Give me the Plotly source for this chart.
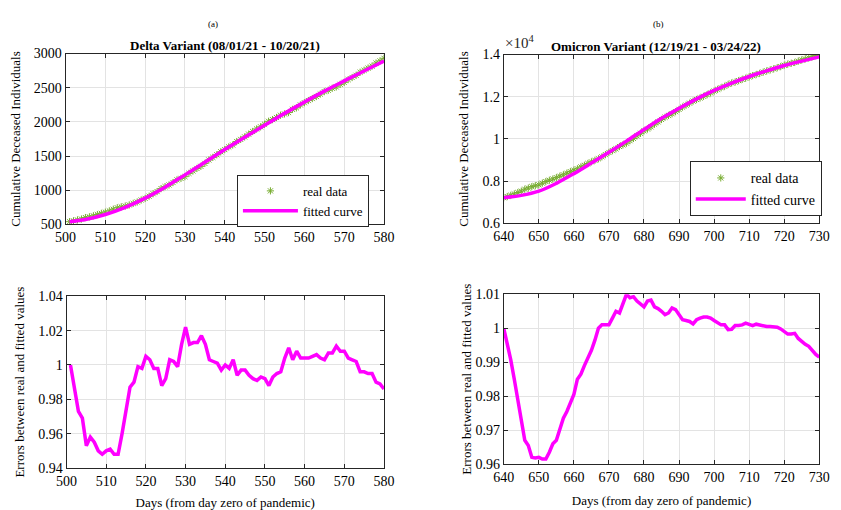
import plotly.graph_objects as go

# ---------------- Delta variant ----------------
delta_days = list(range(501, 581))
delta_real = [540, 553, 566, 579, 600, 611, 626, 644, 662, 679,
              698, 722, 744, 757, 769, 785, 808, 828, 857, 881,
              913, 949, 981, 1024, 1053, 1077, 1113, 1152, 1174, 1199,
              1247, 1282, 1319, 1350, 1393, 1443, 1481, 1519, 1563, 1595,
              1634, 1662, 1713, 1744, 1780, 1821, 1860, 1897, 1928, 1966,
              2009, 2034, 2065, 2098, 2117, 2137, 2184, 2206, 2248, 2281,
              2313, 2342, 2372, 2408, 2443, 2463, 2493, 2512, 2550, 2579,
              2619, 2650, 2682, 2727, 2756, 2788, 2817, 2861, 2893, 2931]
delta_fit_days = [501, 505, 510, 515, 520, 525, 530, 535, 540, 545, 550,
                  555, 560, 565, 570, 575, 580]
delta_fit = [540, 572, 645, 750, 885, 1045, 1225, 1410, 1595, 1775, 1950,
             2125, 2290, 2450, 2600, 2745, 2890]
delta_err = [1.000, 0.986, 0.973, 0.969, 0.953, 0.958, 0.955, 0.950, 0.948, 0.950,
             0.951, 0.948, 0.948, 0.960, 0.975, 0.987, 0.990, 0.999, 0.998, 1.005,
             1.003, 0.998, 0.998, 0.988, 0.992, 1.003, 1.002, 0.999, 1.012, 1.022,
             1.012, 1.013, 1.013, 1.017, 1.012, 1.003, 1.002, 1.001, 0.997, 1.000,
             0.998, 1.003, 0.994, 0.997, 0.997, 0.994, 0.992, 0.991, 0.993, 0.992,
             0.988, 0.993, 0.995, 0.996, 1.004, 1.010, 1.003, 1.008, 1.004, 1.004,
             1.004, 1.005, 1.006, 1.004, 1.003, 1.007, 1.007, 1.011, 1.008, 1.008,
             1.004, 1.003, 1.002, 0.996, 0.996, 0.995, 0.995, 0.990, 0.989, 0.986]

# ---------------- Omicron variant ----------------
omicron_days = list(range(640, 731))
omicron_real = [7220, 7275, 7332, 7397, 7463, 7530, 7622, 7675, 7744, 7788,
                7827, 7908, 7985, 8046, 8101, 8170, 8239, 8304, 8381, 8454,
                8526, 8589, 8677, 8756, 8840, 8918, 8993, 9064, 9157, 9259,
                9361, 9448, 9534, 9645, 9721, 9802, 9921, 10027, 10149, 10268,
                10385, 10472, 10574, 10701, 10811, 10925, 11030, 11118, 11195, 11294,
                11402, 11511, 11603, 11697, 11795, 11870, 11944, 12020, 12100, 12183,
                12272, 12351, 12428, 12498, 12585, 12654, 12702, 12764, 12823, 12879,
                12944, 13004, 13052, 13109, 13168, 13223, 13273, 13323, 13376, 13433,
                13493, 13545, 13587, 13626, 13689, 13745, 13795, 13843, 13900, 13957,
                14009]
omicron_fit_days = [640, 645, 650, 655, 660, 665, 670, 675, 680, 685, 690,
                    695, 700, 705, 710, 715, 720, 725, 730]
omicron_fit = [7220, 7330, 7530, 7900, 8360, 8860, 9370, 9900, 10450, 10980, 11450,
               11900, 12300, 12650, 12960, 13230, 13480, 13690, 13890]
omicron_err = [1.000, 0.9955, 0.9907, 0.985, 0.9792, 0.9735, 0.967, 0.9655, 0.962, 0.9618,
               0.962, 0.9615, 0.9615, 0.9635, 0.966, 0.967, 0.970, 0.9735, 0.9755, 0.978,
               0.9805, 0.985, 0.9865, 0.989, 0.991, 0.9935, 0.9965, 1.000, 1.001, 1.001,
               1.001, 1.003, 1.005, 1.0045, 1.0075, 1.010, 1.009, 1.0093, 1.008, 1.007,
               1.0063, 1.008, 1.0083, 1.0063, 1.0058, 1.005, 1.004, 1.0045, 1.006, 1.0055,
               1.0042, 1.0025, 1.0023, 1.002, 1.0013, 1.0025, 1.003, 1.0033, 1.0033, 1.003,
               1.0023, 1.0015, 1.001, 1.001, 0.9996, 0.9997, 1.0008, 1.0008, 1.001, 1.0015,
               1.0012, 1.0008, 1.0012, 1.001, 1.0006, 1.0005, 1.0005, 1.0005, 1.0003, 0.9998,
               0.999, 0.9983, 0.9983, 0.9985, 0.997, 0.996, 0.9953, 0.9947, 0.9935, 0.9923,
               0.9915]

# ---------------- tick labels ----------------
delta_xticks = [500, 510, 520, 530, 540, 550, 560, 570, 580]
delta_yticks = [500, 1000, 1500, 2000, 2500, 3000]
omicron_xticks = [640, 650, 660, 670, 680, 690, 700, 710, 720, 730]
omicron_yticks = [6000, 8000, 10000, 12000, 14000]
omicron_yticktext = ["0.6", "0.8", "1", "1.2", "1.4"]
delta_err_ticks = [0.94, 0.96, 0.98, 1.00, 1.02, 1.04]
delta_err_ticktext = ["0.94", "0.96", "0.98", "1", "1.02", "1.04"]
omicron_err_ticks = [0.96, 0.97, 0.98, 0.99, 1.00, 1.01]
omicron_err_ticktext = ["0.96", "0.97", "0.98", "0.99", "1", "1.01"]

FONT = "Liberation Serif"
GREEN = "#77AC30"
MAGENTA = "#FF00FF"

fig = go.Figure()

# Delta top
fig.add_trace(go.Scatter(x=delta_days, y=delta_real, mode="markers", name="real data",
                         marker=dict(symbol="asterisk-open", size=6, color=GREEN,
                                     line=dict(color=GREEN, width=1)),
                         xaxis="x", yaxis="y", legend="legend"))
fig.add_trace(go.Scatter(x=delta_fit_days, y=delta_fit, mode="lines", name="fitted curve",
                         line=dict(color=MAGENTA, width=3.5, shape="spline"),
                         xaxis="x", yaxis="y", legend="legend"))
# Omicron top
fig.add_trace(go.Scatter(x=omicron_days, y=omicron_real, mode="markers", name="real data",
                         marker=dict(symbol="asterisk-open", size=6, color=GREEN,
                                     line=dict(color=GREEN, width=1)),
                         xaxis="x2", yaxis="y2", legend="legend2"))
fig.add_trace(go.Scatter(x=omicron_fit_days, y=omicron_fit, mode="lines", name="fitted curve",
                         line=dict(color=MAGENTA, width=3.5, shape="spline"),
                         xaxis="x2", yaxis="y2", legend="legend2"))
# Errors
fig.add_trace(go.Scatter(x=delta_days, y=delta_err, mode="lines", showlegend=False,
                         line=dict(color=MAGENTA, width=3.5), xaxis="x3", yaxis="y3"))
fig.add_trace(go.Scatter(x=omicron_days, y=omicron_err, mode="lines", showlegend=False,
                         line=dict(color=MAGENTA, width=3.5), xaxis="x4", yaxis="y4"))

W, H = 841, 510
def dx(a, b):
    return [a / W, b / W]
def dy(top, bottom):
    return [1 - bottom / H, 1 - top / H]

common = dict(showline=True, linecolor="#262626", linewidth=1, mirror="ticks",
              ticks="inside", ticklen=4, tickcolor="#262626", showgrid=True,
              gridcolor="#e3e3e3", gridwidth=1, zeroline=False,
              tickfont=dict(family=FONT, size=14, color="black"))
title_font = dict(family=FONT, size=13, color="black")

fig.update_layout(
    width=W, height=H, margin=dict(l=0, r=0, t=0, b=0),
    paper_bgcolor="white", plot_bgcolor="white",
    font=dict(family=FONT, color="black"),
    xaxis=dict(common, domain=dx(56, 383), range=[500, 580], tickvals=delta_xticks, anchor="y"),
    yaxis=dict(common, domain=dy(48, 224), range=[500, 3000], tickvals=delta_yticks, anchor="x",
               title=dict(text="Cumulative Deceased Individuals", font=title_font, standoff=10)),
    xaxis2=dict(common, domain=dx(506, 830), range=[640, 730], tickvals=omicron_xticks, anchor="y2"),
    yaxis2=dict(common, domain=dy(49, 223), range=[6000, 14000], tickvals=omicron_yticks,
                ticktext=omicron_yticktext, anchor="x2",
                title=dict(text="Cumulative Deceased Individuals", font=title_font, standoff=10)),
    xaxis3=dict(common, domain=dx(57, 383), range=[500, 580], tickvals=delta_xticks, anchor="y3",
                title=dict(text="Days (from day zero of pandemic)", font=title_font, standoff=11)),
    yaxis3=dict(common, domain=dy(298, 475), range=[0.94, 1.04], tickvals=delta_err_ticks,
                ticktext=delta_err_ticktext, anchor="x3",
                title=dict(text="Errors between real and fitted values", font=title_font, standoff=10)),
    xaxis4=dict(common, domain=dx(506, 830), range=[640, 730], tickvals=omicron_xticks, anchor="y4",
                title=dict(text="Days (from day zero of pandemic)", font=title_font, standoff=11)),
    yaxis4=dict(common, domain=dy(296, 471), range=[0.96, 1.01], tickvals=omicron_err_ticks,
                ticktext=omicron_err_ticktext, anchor="x4",
                title=dict(text="Errors between real and fitted values", font=title_font, standoff=0)),
    legend=dict(x=232 / W, y=1 - 173 / H, xanchor="left", yanchor="top",
                bgcolor="white", bordercolor="#262626", borderwidth=1,
                font=dict(family=FONT, size=13, color="black"), itemwidth=55,
                tracegroupgap=0),
    legend2=dict(x=697 / W, y=1 - 159 / H, xanchor="left", yanchor="top",
                 bgcolor="white", bordercolor="#262626", borderwidth=1,
                 font=dict(family=FONT, size=14, color="black"), itemwidth=50,
                 tracegroupgap=0),
)

annotations = [
    dict(text="(a)", x=207 / W, y=1 - 18 / H, xanchor="center", yanchor="middle"),
    dict(text="(b)", x=665 / W, y=1 - 18 / H, xanchor="center", yanchor="middle"),
    dict(text="<b>Delta Variant (08/01/21 - 10/20/21)</b>", x=(56 + 383) / 2 / W, y=1 - 40 / H,
         xanchor="center", yanchor="middle", font=dict(family=FONT, size=13, color="black")),
    dict(text="<b>Omicron Variant (12/19/21 - 03/24/22)</b>", x=662 / W, y=1 - 41 / H,
         xanchor="center", yanchor="middle", font=dict(family=FONT, size=13, color="black")),
    dict(text="×10<sup>4</sup>", x=505 / W, y=1 - 47 / H, xanchor="left", yanchor="bottom",
         font=dict(family=FONT, size=15, color="#262626")),
]
for a in annotations:
    a.setdefault("font", dict(family=FONT, size=9, color="black"))
    a.update(xref="paper", yref="paper", showarrow=False)
fig.update_layout(annotations=annotations)

fig.write_html("out.html")
